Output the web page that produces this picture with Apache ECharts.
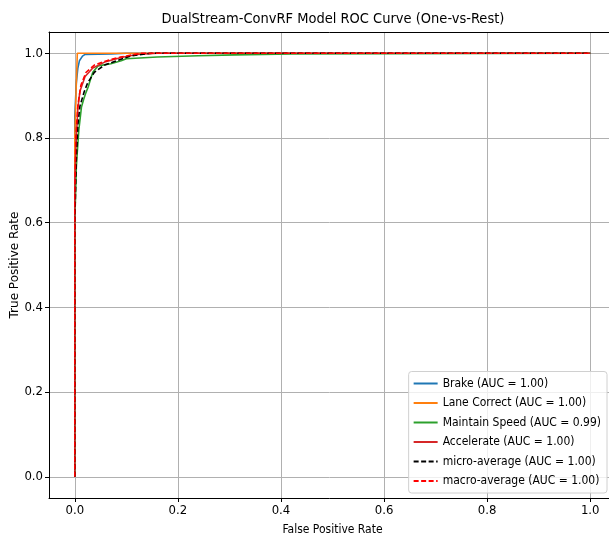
<!DOCTYPE html>
<html>
<head>
<meta charset="utf-8"/>
<title>ROC</title>
<script src="https://cdn.jsdelivr.net/npm/echarts@6/dist/echarts.min.js"></script>
<style>
  html, body { margin: 0; padding: 0; background: #fff; }
  #main { width: 609px; height: 536px; }
</style>
</head>
<body>
<div id="main"></div>
<script>
// ROC points [fpr, tpr]
var brake = [[0, 0], [0, 0.85], [0.003, 0.93], [0.006, 0.965], [0.009, 0.982], [0.015, 0.993], [0.02, 0.997], [0.07, 0.998], [0.1, 1], [1, 1]];
var laneCorrect = [[0, 0], [0, 0.8], [0.003, 0.93], [0.005, 1], [1, 1]];
var maintainSpeed = [[0, 0], [0, 0.6], [0.003, 0.73], [0.0045, 0.76], [0.008, 0.82], [0.013, 0.873], [0.017, 0.89], [0.021, 0.905], [0.026, 0.92], [0.03, 0.936], [0.035, 0.955], [0.045, 0.97], [0.07, 0.975], [0.09, 0.982], [0.1, 0.987], [0.16, 0.991], [0.24, 0.994], [0.31, 0.996], [0.42, 0.998], [0.42, 1], [1, 1]];
var accelerate = [[0, 0], [0, 0.7], [0.003, 0.8], [0.006, 0.87], [0.01, 0.91], [0.02, 0.945], [0.035, 0.965], [0.06, 0.98], [0.09, 0.99], [0.12, 0.997], [0.16, 1], [1, 1]];
var microAvg = [[0, 0], [0, 0.6], [0.003, 0.75], [0.006, 0.83], [0.01, 0.875], [0.018, 0.908], [0.025, 0.93], [0.038, 0.955], [0.058, 0.972], [0.083, 0.983], [0.11, 0.994], [0.15, 1], [1, 1]];
var macroAvg = [[0, 0], [0, 0.65], [0.002, 0.8], [0.006, 0.877], [0.012, 0.925], [0.022, 0.955], [0.038, 0.972], [0.064, 0.983], [0.089, 0.991], [0.13, 1], [1, 1]];

var seriesNames = ['Brake (AUC = 1.00)', 'Lane Correct (AUC = 1.00)', 'Maintain Speed (AUC = 0.99)',
  'Accelerate (AUC = 1.00)', 'micro-average (AUC = 1.00)', 'macro-average (AUC = 1.00)'];
var tickValues = [0, 0.2, 0.4, 0.6, 0.8, 1.0];

var FONT = '"DejaVu Sans Condensed", "DejaVu Sans", sans-serif';

function mkLine(name, data, color, dashed) {
  return {
    name: name,
    type: 'line',
    data: data,
    showSymbol: false,
    symbol: 'none',
    animation: false,
    lineStyle: { color: color, width: 1.6, type: dashed ? [5, 2.5] : 'solid' },
    itemStyle: { color: color }
  };
}

function mkAxis(name, gap, nameFont) {
  return {
    type: 'value',
    min: -0.05,
    max: 1.05,
    name: name,
    nameLocation: 'middle',
    nameGap: gap,
    nameMoveOverlap: false,
    nameTextStyle: { fontFamily: nameFont, fontSize: 12, color: '#000' },
    axisLine: { show: true, onZero: false, lineStyle: { color: '#000', width: 1 } },
    axisTick: { show: true, length: 4, customValues: tickValues, lineStyle: { color: '#000' } },
    axisLabel: {
      customValues: tickValues,
      fontFamily: FONT, fontSize: 13, color: '#000', margin: 6,
      formatter: function (v) { return v.toFixed(1); }
    },
    splitLine: { show: true, customValues: tickValues, lineStyle: { color: '#b0b0b0', width: 1 } }
  };
}

// top spine only
var topSpine = {
  type: 'value', position: 'top', min: -0.05, max: 1.05,
  axisLine: { show: true, onZero: false, lineStyle: { color: '#000', width: 1 } },
  axisTick: { show: false }, axisLabel: { show: false }, splitLine: { show: false }
};

var chart = echarts.init(document.getElementById('main'));
chart.setOption({
  backgroundColor: '#fff',
  animation: false,
  title: {
    text: 'DualStream-ConvRF Model ROC Curve (One-vs-Rest)',
    left: 328, top: 7, textAlign: 'center',
    textStyle: { fontFamily: FONT, fontSize: 14.5, fontWeight: 'normal', color: '#000' }
  },
  grid: { left: 49, right: -7, top: 32, bottom: 38, outerBoundsMode: 'none', containLabel: false },
  xAxis: [mkAxis('False Positive Rate', 26, FONT), topSpine],
  yAxis: mkAxis('True Positive Rate', 28, '"DejaVu Sans", sans-serif'),
  legend: {
    orient: 'vertical',
    right: 2, bottom: 43,
    itemWidth: 24, itemHeight: 10, itemGap: 7.5,
    padding: [6, 6, 6, 4],
    backgroundColor: 'rgba(255,255,255,0.8)',
    borderColor: '#d0d0d0', borderWidth: 1, borderRadius: 3,
    itemStyle: { opacity: 0 },
    textStyle: { fontFamily: FONT, fontSize: 12, color: '#000' },
    data: seriesNames
  },
  series: [
    mkLine(seriesNames[0], brake, '#1f77b4', false),
    mkLine(seriesNames[1], laneCorrect, '#ff7f0e', false),
    mkLine(seriesNames[2], maintainSpeed, '#2ca02c', false),
    mkLine(seriesNames[3], accelerate, '#d62728', false),
    mkLine(seriesNames[4], microAvg, '#000000', true),
    mkLine(seriesNames[5], macroAvg, '#ff0000', true)
  ]
});
</script>
</body>
</html>
